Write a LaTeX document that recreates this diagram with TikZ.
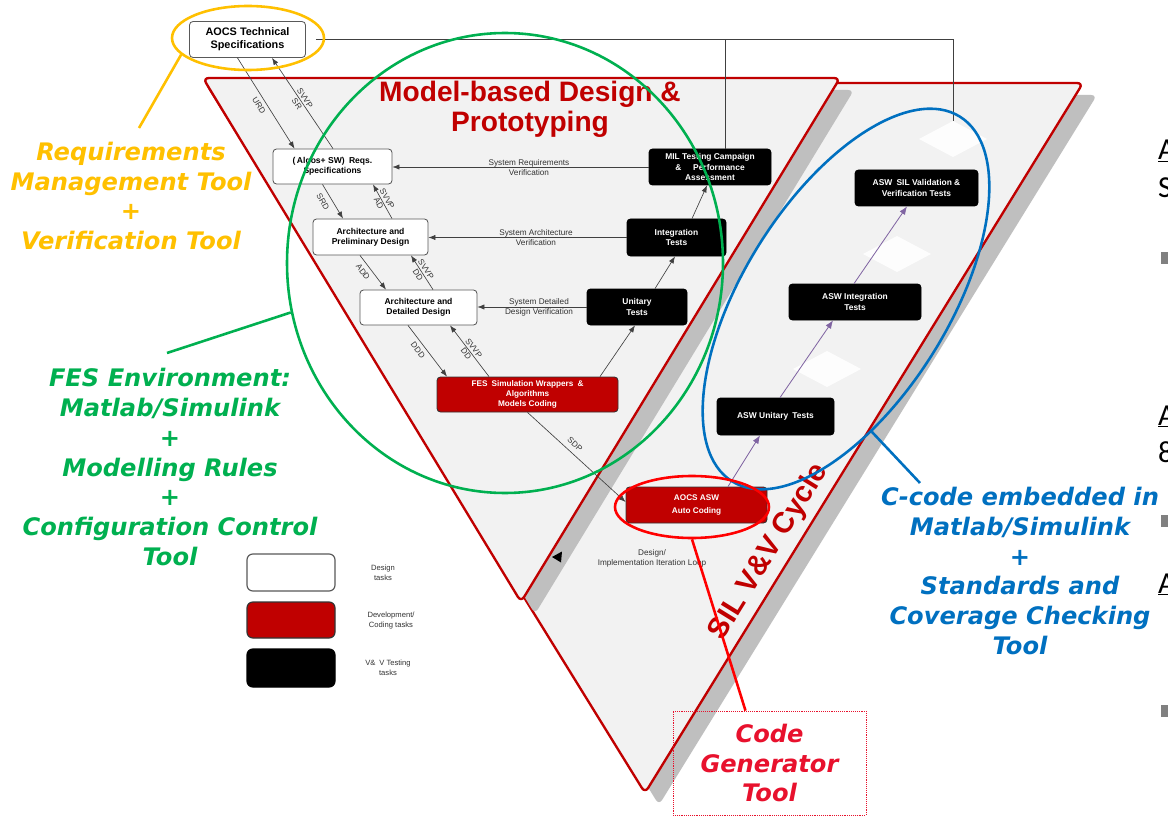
\documentclass[tikz,border=0pt]{standalone}
\usepackage{fontspec}
\setmainfont{Liberation Sans}
\newfontfamily\toolfont{DejaVu Sans}
\newfontfamily\slidefont{Carlito}
\usetikzlibrary{arrows.meta,calc,shapes.geometric}

\definecolor{panelfill}{HTML}{F2F2F2}
\definecolor{paneledge}{HTML}{C00000}
\definecolor{panelshade}{HTML}{BFBFBF}
\definecolor{devred}{HTML}{C00000}
\definecolor{reqyellow}{HTML}{FFC000}
\definecolor{fesgreen}{HTML}{00B050}
\definecolor{cblue}{HTML}{0070C0}
\definecolor{vvpurple}{HTML}{8064A2}
\definecolor{cgred}{HTML}{E8112D}
\definecolor{loopred}{HTML}{FF0000}
\definecolor{wire}{HTML}{404040}

\tikzset{
  px/.style 2 args={minimum width=#1*0.03cm, minimum height=#2*0.03cm},
  panel/.style={draw=paneledge, fill=panelfill, line width=2pt, rounded corners=5pt, line join=round},
  shade/.style={fill=panelshade, rounded corners=5pt},
  task/.style={rounded corners=3pt, line width=0.7pt, inner sep=0pt, align=center},
  designbox/.style={task, draw=black!65, fill=white, text=black,
    font=\bfseries\fontsize{7.3}{8.8}\selectfont},
  codebox/.style={task, draw=black!80, fill=devred, text=white,
    font=\bfseries\fontsize{7}{8.6}\selectfont},
  testbox/.style={task, draw=black, fill=black, text=white,
    font=\bfseries\fontsize{7.2}{8.8}\selectfont},
  flow/.style={draw=wire, line width=0.55pt, -{Latex[length=6pt,width=4.5pt]}},
  vvflow/.style={draw=vvpurple, line width=0.7pt, -{Latex[length=7pt,width=5.5pt]}},
  lbl/.style={font=\fontsize{7}{8.2}\selectfont, text=black!80, align=center, inner sep=0pt},
  tool/.style={font=\toolfont\bfseries\itshape\fontsize{20.6}{25.6}\selectfont, align=center, inner sep=0pt},
  callout/.style={line width=2.2pt},
  slide/.style={font=\slidefont\fontsize{26}{30}\selectfont, inner sep=0pt},
  gap/.style={fill=white, opacity=0.85},
}

\begin{document}
\begin{tikzpicture}[x=0.03cm, y=-0.03cm]
\useasboundingbox[fill=white] (0,0) rectangle (1168,817);

% SIL V&V cycle panel (large V) with its drop shadow
\fill[shade] (220,95) -- (1097,95) -- (659,805) -- cycle;
\draw[panel] (206,83) -- (1083,83) -- (645,793) -- cycle;

% faint white markers on the SIL side
\fill[gap] (919,139) -- (953,121) -- (987,139) -- (953,157) -- cycle;
\fill[gap] (863,254) -- (897,236) -- (931,254) -- (897,272) -- cycle;
\fill[gap] (793,369) -- (827,351) -- (861,369) -- (827,387) -- cycle;

% model-based design panel (small V) with its drop shadow
\fill[shade] (217,90) -- (854,90) -- (535,614) -- cycle;
\draw[panel] (203,78) -- (840,78) -- (521,602) -- cycle;

% panel titles
\node[font=\bfseries\fontsize{24}{25.6}\selectfont, text=paneledge, align=center] (mbtitle)
  at (530,109) {Model-based Design \&\\Prototyping};
\node[font=\bfseries\fontsize{25}{30}\selectfont, text=paneledge, rotate=58.3] (siltitle)
  at (769,552) {SIL V\&V Cycle};

% task boxes
\node[designbox, px={116}{36}, font=\bfseries\fontsize{9.3}{11}\selectfont] (aocs) at (247.5,39.5) {AOCS Technical\\Specifications};
\node[designbox, px={119}{35}] (reqs) at (332.5,166.5) {(\,Algos+ SW)\enspace Reqs.\\Specifications};
\node[designbox, px={115}{36}] (archp) at (370.5,237) {Architecture and\\Preliminary Design};
\node[designbox, px={117}{35}] (archd) at (418.5,307.5) {Architecture and\\Detailed Design};
\node[codebox, px={181}{35}] (fes) at (527.5,394.5) {FES\enspace Simulation Wrappers\enspace\&\\Algorithms\\Models Coding};
\node[codebox, px={141}{36}] (asw) at (696.5,505) {AOCS ASW\\[3pt]Auto Coding};
\node[testbox, px={100}{36}] (unit) at (637,307) {Unitary\\Tests};
\node[testbox, px={99}{37}] (integ) at (676.5,237.5) {Integration\\Tests};
\node[testbox, px={122}{36}] (mil) at (710,167) {MIL Testing Campaign\\\&\hspace{1.4em}Performance\\Assessment};
\node[testbox, px={123}{36}] (sil) at (916.5,188) {ASW\enspace SIL Validation \&\\Verification Tests};
\node[testbox, px={132}{36}] (aint) at (855,302) {ASW Integration\\Tests};
\node[testbox, px={117}{37}] (aunit) at (775.5,416.5) {ASW Unitary\enspace Tests};

% specification links to the top
\coordinate (silTop) at (953,121);
\coordinate (milTop) at ($(mil.north)+(15,0)$);
\draw[wire, line width=0.55pt] ($(aocs.east)+(10,0)$) -- (aocs.east -| silTop) -- (silTop);
\draw[wire, line width=0.55pt] (milTop) -- (milTop |- aocs.east);

% design descent and verification returns
\draw[flow] ($(aocs.south)+(-10,0)$) -- ($(reqs.north)+(-38,0)$);
\draw[flow] ($(reqs.north)+(0.5,0)$) -- ($(aocs.south)+(24.5,0)$);
\draw[flow] ($(reqs.south)+(-10,0)$) -- ($(archp.north)+(-27.5,0)$);
\draw[flow] ($(archp.north)+(21.5,0)$) -- ($(reqs.south)+(40.5,0)$);
\draw[flow] ($(archp.south)+(-10.5,0)$) -- ($(archd.north)+(-32.5,0)$);
\draw[flow] ($(archd.north)+(14.5,0)$) -- ($(archp.south)+(40.5,0)$);
\draw[flow] ($(archd.south)+(-10.5,0)$) -- ($(fes.north)+(-80.5,0)$);
\draw[flow] ($(fes.north)+(-38.5,0)$) -- ($(archd.south)+(31.5,0)$);
\draw[flow] (fes.south) -- ($(asw.west)+(0,-3)$);
\draw[flow] ($(fes.north)+(72.5,0)$) -- ($(unit.south)+(-2,0)$);
\draw[flow] ($(unit.north)+(18,0)$) -- ($(integ.south)+(-1.5,0)$);
\draw[flow] ($(integ.north)+(15.5,0)$) -- ($(mil.south)+(-3,0)$);
\draw[flow] (mil.west) -- (mil.west -| reqs.east);
\draw[flow] (integ.west) -- (integ.west -| archp.east);
\draw[flow] (unit.west) -- (unit.west -| archd.east);

% SIL test chain
\draw[vvflow] ($(asw.north)+(31.5,0)$) -- ($(aunit.south)+(-15.5,0)$);
\draw[vvflow] ($(aunit.north)+(4.5,0)$) -- ($(aint.south)+(-22,0)$);
\draw[vvflow] ($(aint.north)+(-1,0)$) -- ($(sil.south)+(-9.5,0)$);

% link labels
\node[lbl, rotate=-57.7] (tURD) at (259,106) {URD};
\node[lbl, rotate=-56.5] (tSR) at (301,101) {SVVP\\SR};
\node[lbl, rotate=-60] (tSRD) at (323,202) {SRD};
\node[lbl, rotate=-61] (tAD) at (383,201) {SVVP\\AD};
\node[lbl, rotate=-53] (tADD) at (363,272) {ADD};
\node[lbl, rotate=-57] (tDD1) at (422,272) {SVVP\\DD};
\node[lbl, rotate=-53] (tDDD) at (418,350) {DDD};
\node[lbl, rotate=-53] (tDD2) at (470,351) {SVVP\\DD};
\node[lbl, rotate=-42.6] (tSDP) at (575,444) {SDP};
\node[lbl] (tsrv) at (529,167.5) {System Requirements\\Verification};
\node[lbl] (tsav) at (536,237.5) {System Architecture\\Verification};
\node[lbl] (tsdv) at (539,307.5) {System Detailed\\Design Verification};
\node[lbl] (tloop) at (652,558.5) {Design/\\Implementation Iteration Loop};
\fill[black] (552,557) -- (562,551.5) -- (561,562.5) -- cycle;

% tool call-outs
\node[ellipse, draw=reqyellow, callout, px={152}{64}, inner sep=0pt] (yell) at (248,38) {};
\coordinate (reqTip) at (139,128);
\draw[reqyellow, callout] (yell.194) -- (reqTip);
\node[tool, text=reqyellow] (reqtxt) at (131,196) {Requirements\\Management Tool\\+\\Verification Tool};

\node[ellipse, draw=fesgreen, callout, px={436}{460}, inner sep=0pt] (gell) at (505,263) {};
\coordinate (fesTip) at (167,353);
\draw[fesgreen, callout] (gell.193) -- (fesTip);
\node[tool, text=fesgreen] (festxt) at (170,467) {FES Environment:\\Matlab/Simulink\\+\\Modelling Rules\\+\\Configuration Control\\Tool};

\node[ellipse, draw=cblue, callout, px={430}{205}, inner sep=0pt, rotate=58] (bell) at (846,299) {};
\coordinate (cTip) at (920,483);
\draw[cblue, callout] (bell.-137.5) -- (cTip);
\node[tool, text=cblue] (ctxt) at (1020,571) {C-code embedded in\\Matlab/Simulink\\+\\Standards and\\Coverage Checking\\Tool};

\node[ellipse, draw=loopred, callout, px={154}{62}, inner sep=0pt] (rell) at (692,507) {};
\node[tool, text=cgred, draw=cgred, densely dotted, line width=0.6pt, px={193}{104}] (cgbox) at (769.5,763) {Code\\Generator\\Tool};
\draw[loopred, callout] (rell.south) -- ($(cgbox.north)+(-24,0)$);

% legend
\node[designbox, px={88}{37}, line width=1pt, rounded corners=5pt] (lgd) at (291,572.5) {};
\node[codebox, px={88}{36}, line width=1pt, rounded corners=5pt] (lgc) at (291,620) {};
\node[testbox, px={88}{38}, line width=1pt, rounded corners=5pt] (lgt) at (291,668) {};
\node[lbl, font=\fontsize{6.5}{8.3}\selectfont] (lgdt) at (383,573) {Design\\tasks};
\node[lbl, font=\fontsize{6.5}{8.3}\selectfont] (lgct) at (391,620.5) {Development/\\Coding tasks};
\node[lbl, font=\fontsize{6.5}{8.3}\selectfont] (lgtt) at (388,668) {V\&\enspace V Testing\\tasks};

% neighbouring slide text running off the right edge
\begin{scope}
\clip (0,0) rectangle (1168,817);
\node[slide, anchor=base west] (s1) at (1158,160) {\underline{A}};
\node[slide, anchor=base west] (s2) at (1158,197) {S};
\fill[black!50] (1161,252) rectangle (1170,264);
\node[slide, anchor=base west] (s3) at (1158,425) {\underline{A}};
\node[slide, anchor=base west] (s4) at (1158,462) {8};
\fill[black!50] (1161,515) rectangle (1170,527);
\node[slide, anchor=base west] (s5) at (1158,593) {\underline{A}};
\fill[black!50] (1161,705) rectangle (1170,717);
\end{scope}
\end{tikzpicture}
\end{document}
